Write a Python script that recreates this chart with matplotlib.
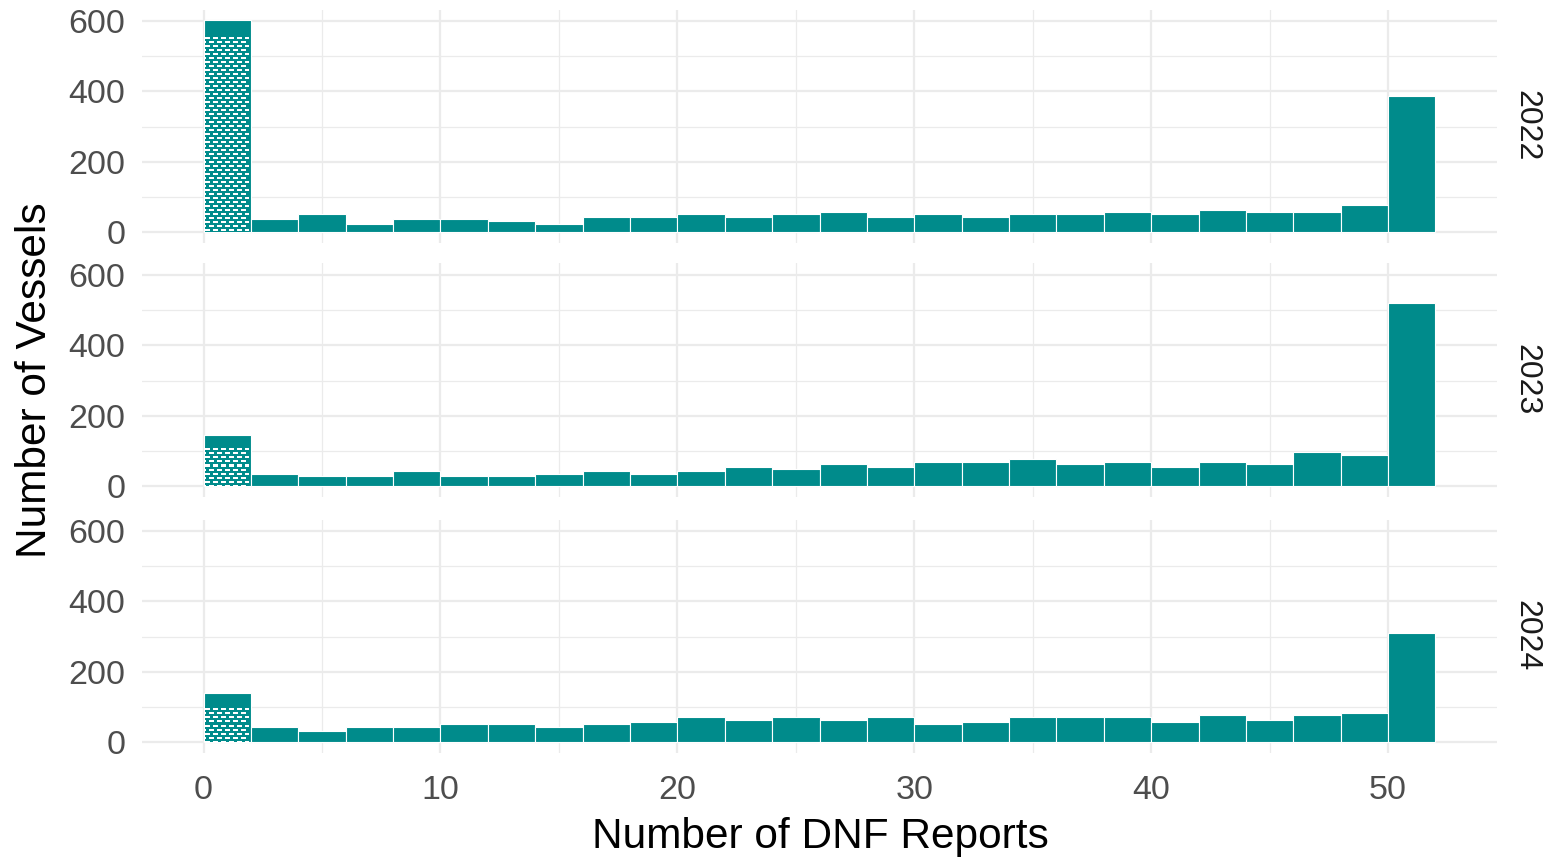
import matplotlib
matplotlib.use("Agg")
import matplotlib.pyplot as plt
import numpy as np

plt.rcParams["font.family"] = ["Liberation Sans", "DejaVu Sans"]

# bins of width 2 from 0 to 52
bin_edges = list(range(0, 54, 2))
years = ["2022", "2023", "2024"]

counts_2022 = [603, 36, 50, 23, 36, 36, 30, 23, 44, 44, 50, 44, 50,
               56, 44, 50, 44, 50, 50, 56, 50, 64, 56, 56, 77, 387]
counts_2023 = [146, 35, 29, 29, 42, 29, 29, 35, 42, 35, 42, 55, 48,
               63, 55, 69, 69, 76, 63, 69, 55, 69, 63, 96, 89, 520]
counts_2024 = [140, 44, 30, 44, 44, 50, 50, 44, 50, 57, 70, 64, 70,
               64, 70, 50, 57, 70, 70, 70, 57, 77, 64, 77, 84, 310]
# vessels with zero reports (hatched part of the first bin)
zero_counts = [560, 112, 100]

all_counts = [counts_2022, counts_2023, counts_2024]

bar_color = "#008B8B"
grid_color = "#EBEBEB"
tick_color = "#4D4D4D"


def brick_texture(h, w):
    # teal background with short white dashes in a staggered (brick) layout
    teal = np.array(matplotlib.colors.to_rgb(bar_color))
    img = np.tile(teal, (h, w, 1))
    for r in range(h):
        if r % 4 not in (2, 3):
            continue
        shift = 4 if (r // 4) % 2 else 0
        for c in range(w):
            if (c + shift) % 8 < 5:
                img[r, c] = 1.0
    return img


fig = plt.figure(figsize=(15.52, 8.61), dpi=100)
left, right = 142 / 1552, 1497 / 1552
panel_px = [(9.5, 242.6), (263.4, 496.6), (519.6, 752.6)]

edges = np.array(bin_edges)
lefts = edges[:-1]
widths = np.diff(edges)
ymax = max(max(c) for c in all_counts)

for i, (year, counts) in enumerate(zip(years, all_counts)):
    top_px, bot_px = panel_px[i]
    ax = fig.add_axes([left, 1 - bot_px / 861, right - left, (bot_px - top_px) / 861])
    ax.set_xlim(-2.6, 54.6)
    ax.set_ylim(-0.05 * ymax, 1.05 * ymax)

    ax.bar(lefts, counts, width=widths, align="edge", color=bar_color,
           edgecolor="white", linewidth=0.8, zorder=2)

    # patterned zero-report portion of the first bin
    x0, x1 = lefts[0] + 0.08, lefts[0] + widths[0] - 0.08
    p0 = ax.transData.transform((x0, 0))
    p1 = ax.transData.transform((x1, zero_counts[i]))
    w_px = max(int(round(p1[0] - p0[0])), 1)
    h_px = max(int(round(p1[1] - p0[1])), 1)
    ax.imshow(brick_texture(h_px, w_px), extent=(x0, x1, 0, zero_counts[i]),
              aspect="auto", interpolation="nearest", zorder=3)
    ax.set_xlim(-2.6, 54.6)
    ax.set_ylim(-0.05 * ymax, 1.05 * ymax)

    ax.set_xticks([0, 10, 20, 30, 40, 50])
    ax.set_xticks([5, 15, 25, 35, 45], minor=True)
    ax.set_yticks([0, 200, 400, 600])
    ax.set_yticks([100, 300, 500], minor=True)
    ax.grid(True, which="major", color=grid_color, linewidth=1.6, zorder=0)
    ax.grid(True, which="minor", color=grid_color, linewidth=0.9, zorder=0)
    ax.set_axisbelow(True)
    for s in ax.spines.values():
        s.set_visible(False)
    ax.tick_params(which="both", length=0)
    ax.tick_params(axis="y", labelsize=24.5, labelcolor=tick_color, pad=12)
    if i < 2:
        ax.tick_params(axis="x", labelbottom=False)
    else:
        ax.tick_params(axis="x", labelsize=24.5, labelcolor=tick_color, pad=16)
    ax.text(1.022, 0.5, year, transform=ax.transAxes, rotation=-90,
            ha="center", va="center", fontsize=23, color="#1A1A1A")

fig.text(820 / 1552, 1 - 837 / 861, "Number of DNF Reports", ha="center",
         va="center", fontsize=30.5)
fig.text(35 / 1552, 1 - 380 / 861, "Number of Vessels", ha="center",
         va="center", rotation=90, fontsize=30.5)

fig.savefig("out.png", dpi=100)
